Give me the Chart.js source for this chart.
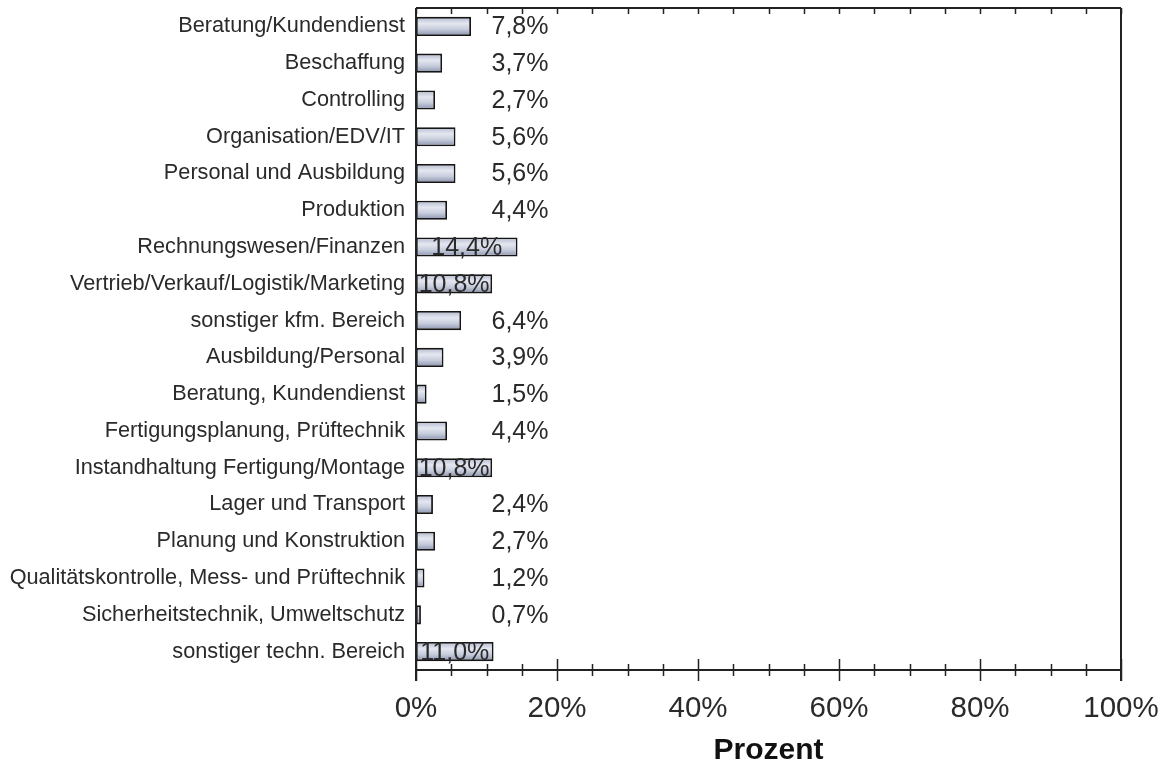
<!DOCTYPE html>
<html>
<head>
<meta charset="utf-8">
<script src="https://cdn.jsdelivr.net/npm/chart.js@4.4.0/dist/chart.umd.min.js"></script>
<style>
  html, body { margin: 0; padding: 0; background: #fff; }
</style>
</head>
<body>
<canvas id="myChart" width="1165" height="769"></canvas>
<script>
const categories = [
    'Beratung/Kundendienst',
    'Beschaffung',
    'Controlling',
    'Organisation/EDV/IT',
    'Personal und Ausbildung',
    'Produktion',
    'Rechnungswesen/Finanzen',
    'Vertrieb/Verkauf/Logistik/Marketing',
    'sonstiger kfm. Bereich',
    'Ausbildung/Personal',
    'Beratung, Kundendienst',
    'Fertigungsplanung, Prüftechnik',
    'Instandhaltung Fertigung/Montage',
    'Lager und Transport',
    'Planung und Konstruktion',
    'Qualitätskontrolle, Mess- und Prüftechnik',
    'Sicherheitstechnik, Umweltschutz',
    'sonstiger techn. Bereich'
];
const values = [7.8, 3.7, 2.7, 5.6, 5.6, 4.4, 14.4, 10.8, 6.4, 3.9, 1.5, 4.4, 10.8, 2.4, 2.7, 1.2, 0.7, 11.0];
const tickValues = [0, 20, 40, 60, 80, 100];
const minorStep = 5;
const axisTitle = 'Prozent';

const textColor = '#2a2a2a';
const lineColor = '#222';

function fmt(v) {
    return v.toFixed(1).replace('.', ',') + '%';
}

// gradient fill for each bar, built from the bar's own position on the y scale
function barFill(c) {
    const chart = c.chart;
    const area = chart.chartArea;
    if (!area || c.type !== 'data') return '#b8c0d2';
    const y = chart.scales.y.getPixelForValue(c.dataIndex);
    const h = area.height / categories.length * 0.52 / 2;
    const g = chart.ctx.createLinearGradient(0, y - h, 0, y + h);
    g.addColorStop(0, '#b1b9cf');
    g.addColorStop(0.35, '#e4e7f0');
    g.addColorStop(0.65, '#c6ccdc');
    g.addColorStop(1, '#8890ab');
    return g;
}

function noPadding(scale) {
    scale.paddingTop = 0;
    scale.paddingBottom = 0;
    scale.paddingLeft = 0;
    scale.paddingRight = 0;
}

const framePlugin = {
    id: 'frame',
    afterDatasetsDraw(chart) {
        const ctx = chart.ctx;
        const a = chart.chartArea;
        const x = chart.scales.x;
        ctx.save();
        ctx.strokeStyle = lineColor;
        ctx.lineWidth = 2;
        ctx.beginPath();
        // top and bottom lines
        ctx.moveTo(a.left, a.top); ctx.lineTo(a.right, a.top);
        ctx.moveTo(a.left, a.bottom); ctx.lineTo(a.right, a.bottom);
        // left and right lines, running a little below the bottom axis
        ctx.moveTo(a.left, a.top); ctx.lineTo(a.left, a.bottom + 11);
        ctx.moveTo(a.right, a.top); ctx.lineTo(a.right, a.bottom + 11);
        ctx.stroke();

        ctx.lineWidth = 1.5;
        ctx.beginPath();
        for (let v = 0; v <= 100; v += minorStep) {
            const px = Math.round(x.getPixelForValue(v)) + 0.5;
            const major = tickValues.includes(v);
            const len = major ? 11 : 6;
            ctx.moveTo(px, a.bottom - len); ctx.lineTo(px, a.bottom + len);
            ctx.moveTo(px, a.top); ctx.lineTo(px, a.top + 6);
        }
        ctx.stroke();

        // value labels
        ctx.fillStyle = textColor;
        ctx.font = '25px "Liberation Sans", Arial, sans-serif';
        ctx.textAlign = 'center';
        ctx.textBaseline = 'middle';
        const meta = chart.getDatasetMeta(0);
        meta.data.forEach(function (bar, i) {
            const txt = fmt(values[i]);
            const w = ctx.measureText(txt).width;
            let cx;
            if (bar.x - bar.base >= w) {
                cx = (bar.x + bar.base) / 2;
            } else {
                cx = a.left + 104;
            }
            ctx.fillText(txt, cx, bar.y + 1);
        });
        ctx.restore();
    }
};

new Chart(document.getElementById('myChart'), {
    type: 'bar',
    data: {
        labels: categories,
        datasets: [{
            data: values,
            backgroundColor: barFill,
            borderColor: '#151515',
            borderWidth: 1.8,
            borderSkipped: false,
            barPercentage: 0.52,
            categoryPercentage: 1.0
        }]
    },
    options: {
        indexAxis: 'y',
        responsive: false,
        animation: false,
        layout: {
            padding: { top: 8, right: 44, left: 0, bottom: 0 }
        },
        plugins: {
            legend: { display: false },
            tooltip: { enabled: false }
        },
        scales: {
            x: {
                min: 0,
                max: 100,
                grid: { display: false, drawTicks: false },
                border: { display: false },
                afterFit: function (scale) { scale.height = 99; noPadding(scale); },
                afterBuildTicks: function (scale) {
                    scale.ticks = tickValues.map(v => ({ value: v }));
                },
                ticks: {
                    padding: 21,
                    color: textColor,
                    font: { family: '"Liberation Sans", Arial, sans-serif', size: 29.5 },
                    callback: v => v + '%'
                },
                title: {
                    display: true,
                    text: axisTitle,
                    color: '#111',
                    padding: { top: 0, bottom: 0 },
                    font: { family: '"Liberation Sans", Arial, sans-serif', size: 30, weight: 'bold' }
                }
            },
            y: {
                grid: { display: false, drawTicks: false },
                border: { display: false },
                afterFit: function (scale) { scale.width = 416; noPadding(scale); },
                ticks: {
                    padding: 11,
                    autoSkip: false,
                    color: textColor,
                    font: { family: '"Liberation Sans", Arial, sans-serif', size: 21.7 }
                }
            }
        }
    },
    plugins: [framePlugin]
});
</script>
</body>
</html>
